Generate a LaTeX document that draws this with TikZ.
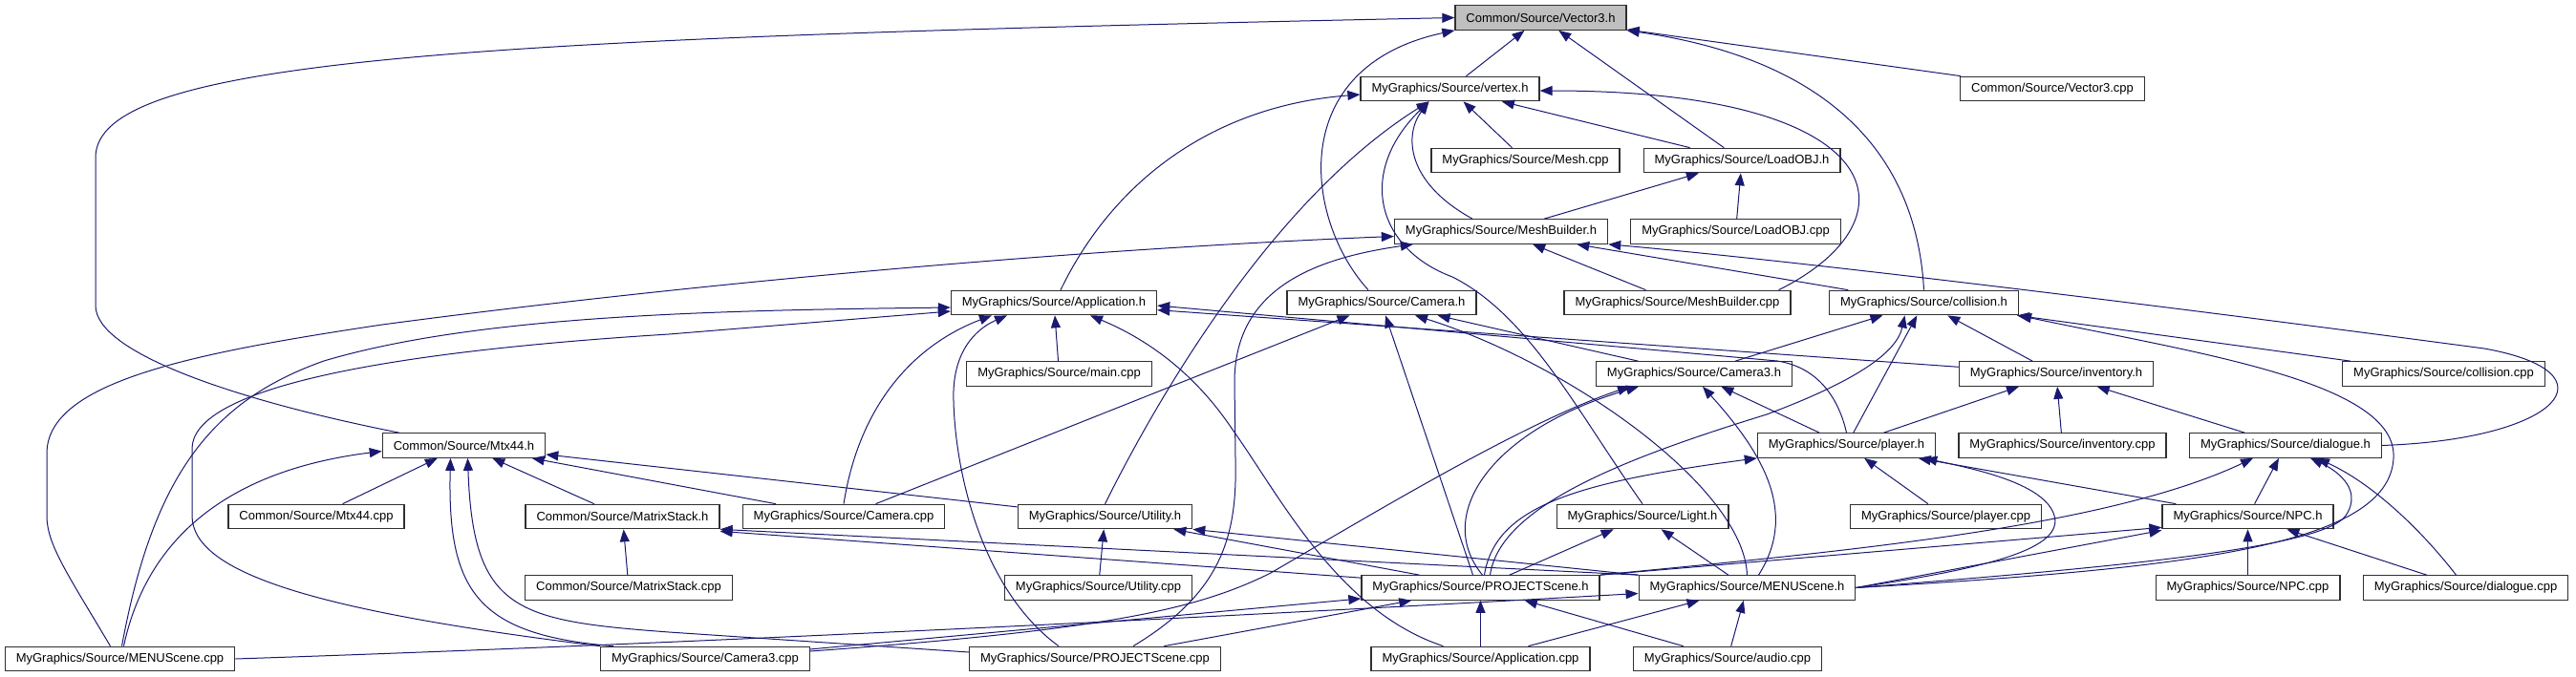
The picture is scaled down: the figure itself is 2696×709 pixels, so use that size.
\documentclass[tikz,border=0pt]{standalone}
\usepackage{fontspec}
\setmainfont{Liberation Sans}
\usepackage{tikz}
\usetikzlibrary{arrows.meta}
\definecolor{incblue}{HTML}{191970}
\definecolor{rootgray}{HTML}{BFBFBF}
\definecolor{boxgray}{HTML}{303030}

\begin{document}
\begin{tikzpicture}[
    x=1pt, y=-1pt,
    file/.style={draw=boxgray, fill=white, line width=1.2pt, inner xsep=11.5pt, inner ysep=0pt, minimum height=25.5pt, font=\fontsize{13}{15}\selectfont},
    root/.style={file, fill=rootgray},
    inc/.style={incblue, line width=1pt, -{Triangle[length=13pt,width=10pt]}}
]
\useasboundingbox (0,0) rectangle (2696,709);

% Top rows
\node[root] (vec3h) at (1612.5, 18.5) {Common/Source/Vector3.h};
\node[file] (vertexh) at (1517.5, 93) {MyGraphics/Source/vertex.h};
\node[file] (vec3cpp) at (2148, 93) {Common/Source/Vector3.cpp};
\node[file] (meshcpp) at (1596.5, 168) {MyGraphics/Source/Mesh.cpp};
\node[file] (objh) at (1823, 168) {MyGraphics/Source/LoadOBJ.h};
\node[file] (mbh) at (1571, 242.5) {MyGraphics/Source/MeshBuilder.h};
\node[file] (objcpp) at (1816.5, 242.5) {MyGraphics/Source/LoadOBJ.cpp};
\node[file] (apph) at (1103, 317) {MyGraphics/Source/Application.h};
\node[file] (camh) at (1446, 317) {MyGraphics/Source/Camera.h};
\node[file] (mbcpp) at (1755.5, 317) {MyGraphics/Source/MeshBuilder.cpp};
\node[file] (colh) at (2013.5, 317) {MyGraphics/Source/collision.h};
\node[file] (maincpp) at (1108.5, 391.5) {MyGraphics/Source/main.cpp};
\node[file] (cam3h) at (1773, 391.5) {MyGraphics/Source/Camera3.h};
\node[file] (invh) at (2152, 391.5) {MyGraphics/Source/inventory.h};
\node[file] (colcpp) at (2557.5, 391.5) {MyGraphics/Source/collision.cpp};

% Middle rows
\node[file] (mtxh) at (485.5, 466.5) {Common/Source/Mtx44.h};
\node[file] (plyh) at (1932.5, 466.5) {MyGraphics/Source/player.h};
\node[file] (invcpp) at (2158.5, 466.5) {MyGraphics/Source/inventory.cpp};
\node[file] (dlgh) at (2392, 466.5) {MyGraphics/Source/dialogue.h};
\node[file] (mtxcpp) at (331, 541) {Common/Source/Mtx44.cpp};
\node[file] (msh) at (651.5, 541) {Common/Source/MatrixStack.h};
\node[file] (camcpp) at (883, 541) {MyGraphics/Source/Camera.cpp};
\node[file] (utilh) at (1156.5, 541) {MyGraphics/Source/Utility.h};
\node[file] (lighth) at (1719, 541) {MyGraphics/Source/Light.h};
\node[file] (plycpp) at (2036.5, 541) {MyGraphics/Source/player.cpp};
\node[file] (npch) at (2352.5, 541) {MyGraphics/Source/NPC.h};

% Bottom rows
\node[file] (mscpp) at (658, 615.5) {Common/Source/MatrixStack.cpp};
\node[file] (utilcpp) at (1149.5, 615.5) {MyGraphics/Source/Utility.cpp};
\node[file] (projh) at (1549.5, 615.5) {MyGraphics/Source/PROJECTScene.h};
\node[file] (menuh) at (1828.5, 615.5) {MyGraphics/Source/MENUScene.h};
\node[file] (npccpp) at (2352.5, 615.5) {MyGraphics/Source/NPC.cpp};
\node[file] (dlgcpp) at (2580.5, 615.5) {MyGraphics/Source/dialogue.cpp};
\node[file] (menucpp) at (125.5, 690) {MyGraphics/Source/MENUScene.cpp};
\node[file] (cam3cpp) at (738, 690) {MyGraphics/Source/Camera3.cpp};
\node[file] (projcpp) at (1146, 690) {MyGraphics/Source/PROJECTScene.cpp};
\node[file] (appcpp) at (1549.5, 690) {MyGraphics/Source/Application.cpp};
\node[file] (audiocpp) at (1808, 690) {MyGraphics/Source/audio.cpp};

% Vector3.h
\draw[inc] ([xshift=18pt]mtxh.north west) .. controls (250,420) and (100,370) .. (100,320) -- (100,165) .. controls (100,60) and (500,40) .. (vec3h.west);
\draw[inc] ([xshift=-14pt]camh.north) .. controls (1365,230) and (1345,70) .. (vec3h.south west);
\draw[inc] (vertexh) -- (vec3h);
\draw[inc] (objh) -- (vec3h);
\draw[inc] (vec3cpp) -- (vec3h);
\draw[inc] (colh.north) .. controls (2005,150) and (1900,60) .. (vec3h.south east);

% vertex.h
\draw[inc] ([xshift=7pt]apph.north) .. controls (1170,180) and (1280,110) .. ([yshift=-6pt]vertexh.west);
\draw[inc] ([xshift=-13pt]mbcpp.north east) .. controls (2010,230) and (1980,95) .. ([yshift=-2pt]vertexh.east);
\draw[inc] (meshcpp) -- (vertexh);
\draw[inc] (objh) -- (vertexh);
\draw[inc] ([xshift=-30pt]mbh.north) .. controls (1470,190) and (1470,140) .. ([xshift=-22pt]vertexh.south);
\draw[inc] (lighth.north) .. controls (1650,430) and (1600,330) .. (1520,290) .. controls (1440,260) and (1420,180) .. ([xshift=-22pt]vertexh.south);
\draw[inc] (utilh.north) .. controls (1210,420) and (1330,210) .. ([xshift=-22pt]vertexh.south);

% LoadOBJ.h
\draw[inc] (mbh) -- (objh);
\draw[inc] (objcpp) -- (objh);

% MeshBuilder.h
\draw[inc] ([xshift=-10pt]menucpp.north) .. controls (70,600) and (49,570) .. (49,540) -- (49,475) .. controls (49,400) and (200,370) .. (400,340) .. controls (700,300) and (1100,262) .. ([yshift=-5pt]mbh.west);
\draw[inc] ([xshift=40pt]projcpp.north) .. controls (1280,620) and (1295,560) .. (1293,480) -- (1292,400) .. controls (1292,300) and (1380,270) .. ([xshift=20pt]mbh.south west);
\draw[inc] (mbcpp) -- (mbh);
\draw[inc] (colh) -- (mbh);
\draw[inc] (dlgh.east) .. controls (2680,460) and (2740,390) .. (2600,365) .. controls (2300,325) and (1900,275) .. (mbh.south east);

% Application.h
\draw[inc] ([xshift=2pt]menucpp.north) .. controls (160,500) and (220,420) .. (339,378) .. controls (500,330) and (750,325) .. ([yshift=-5pt]apph.west);
\draw[inc] (cam3cpp.north west) .. controls (330,640) and (201,600) .. (201,540) -- (201,470) .. controls (201,410) and (380,370) .. (700,350) -- ([yshift=-9pt]apph.west);
\draw[inc] (camcpp.north) .. controls (900,420) and (960,360) .. ([xshift=-65pt]apph.south);
\draw[inc] ([xshift=-38pt]projcpp.north) .. controls (1030,620) and (1000,500) .. (998,420) .. controls (996,370) and (1020,345) .. ([xshift=-49pt]apph.south);
\draw[inc] (maincpp) -- (apph);
\draw[inc] ([xshift=-39pt]appcpp.north) .. controls (1400,640) and (1340,520) .. (1290,450) .. controls (1250,390) and (1200,355) .. ([xshift=38pt]apph.south);
\draw[inc] (plyh.north) .. controls (1925,420) and (1905,385) .. (1860,378) -- ([yshift=-3pt]apph.east);
\draw[inc] (invh) -- (apph);

% Camera.h
\draw[inc] (camcpp) -- (camh);
\draw[inc] ([xshift=-8pt]projh.north) -- ([xshift=4pt]camh.south);
\draw[inc] (menuh.north) .. controls (1825,510) and (1640,380) .. ([xshift=35pt]camh.south);
\draw[inc] (cam3h) -- (camh);

% collision.h
\draw[inc] (cam3h) -- (colh);
\draw[inc] (plyh) -- (colh);
\draw[inc] (invh) -- (colh);
\draw[inc] ([xshift=10pt]projh.north) .. controls (1570,530) and (1700,480) .. (1849,434) .. controls (1940,400) and (1985,370) .. ([xshift=-20pt]colh.south);
\draw[inc] (menuh.east) .. controls (2300,595) and (2500,570) .. (2505,480) .. controls (2510,400) and (2300,370) .. (colh.south east);
\draw[inc] (colcpp) -- (colh);

% Camera3.h
\draw[inc] ([yshift=8pt]cam3cpp.east) .. controls (1150,660) and (1250,640) .. (1330,600) .. controls (1450,530) and (1600,440) .. ([xshift=-67pt]cam3h.south);
\draw[inc] ([xshift=2pt]projh.north) .. controls (1500,540) and (1560,450) .. ([xshift=-58pt]cam3h.south);
\draw[inc] ([xshift=12pt]menuh.north) .. controls (1880,540) and (1850,480) .. ([xshift=9pt]cam3h.south);
\draw[inc] (plyh) -- (cam3h);

% inventory.h
\draw[inc] (plyh) -- (invh);
\draw[inc] (invcpp) -- (invh);
\draw[inc] (dlgh) -- (invh);

% player.h
\draw[inc] (plycpp) -- (plyh);
\draw[inc] (npch) -- (plyh);
\draw[inc] (menuh.east) .. controls (2080,595) and (2160,575) .. (2150,540) .. controls (2140,505) and (2060,490) .. ([xshift=-12pt]plyh.south east);
\draw[inc] ([xshift=4pt]projh.north) .. controls (1565,530) and (1650,505) .. (plyh.south west);

% dialogue.h
\draw[inc] (projh.north east) .. controls (1900,580) and (2200,555) .. ([xshift=-34pt]dlgh.south);
\draw[inc] (npch) -- (dlgh);
\draw[inc] (menuh.east) .. controls (2200,595) and (2430,575) .. (2455,540) .. controls (2475,510) and (2440,490) .. ([xshift=26pt]dlgh.south);
\draw[inc] ([xshift=-10pt]dlgcpp.north) .. controls (2530,550) and (2480,505) .. ([xshift=33pt]dlgh.south);

% NPC.h
\draw[inc] (projh.north east) -- ([yshift=2pt]npch.south west);
\draw[inc] (menuh.east) -- ([yshift=-1pt]npch.south west);
\draw[inc] (npccpp) -- (npch);
\draw[inc] (dlgcpp) -- (npch);

% Mtx44.h
\draw[inc] ([xshift=4pt]menucpp.north) .. controls (150,580) and (220,495) .. ([yshift=-6pt]mtxh.west);
\draw[inc] (mtxcpp) -- (mtxh);
\draw[inc] ([xshift=14pt]cam3cpp.north west) .. controls (500,665) and (468,620) .. ([xshift=-14pt]mtxh.south);
\draw[inc] ([yshift=7pt]projcpp.west) -- (700,662) .. controls (540,650) and (495,640) .. ([xshift=4pt]mtxh.south);
\draw[inc] (msh) -- (mtxh);
\draw[inc] (camcpp) -- (mtxh);
\draw[inc] (utilh) -- (mtxh);

% MatrixStack.h, Utility.h, Light.h
\draw[inc] (mscpp) -- (msh);
\draw[inc] ([yshift=-3pt]projh.north west) -- ([yshift=-2pt]msh.south east);
\draw[inc] (menuh.north west) -- (msh.south east);
\draw[inc] (utilcpp) -- (utilh);
\draw[inc] ([xshift=-64pt]projh.north) -- ([xshift=-20pt]utilh.south east);
\draw[inc] (menuh.north west) -- (utilh.south east);
\draw[inc] (projh) -- (lighth);
\draw[inc] (menuh) -- (lighth);

% PROJECTScene.h
\draw[inc] (projcpp) -- (projh);
\draw[inc] (cam3cpp) -- (projh);
\draw[inc] (appcpp) -- (projh);
\draw[inc] (audiocpp) -- (projh);

% MENUScene.h
\draw[inc] (menucpp.east) .. controls (700,675) and (1300,645) .. ([yshift=-6pt]menuh.west);
\draw[inc] (appcpp) -- (menuh);
\draw[inc] (audiocpp) -- (menuh);
\end{tikzpicture}
\end{document}
